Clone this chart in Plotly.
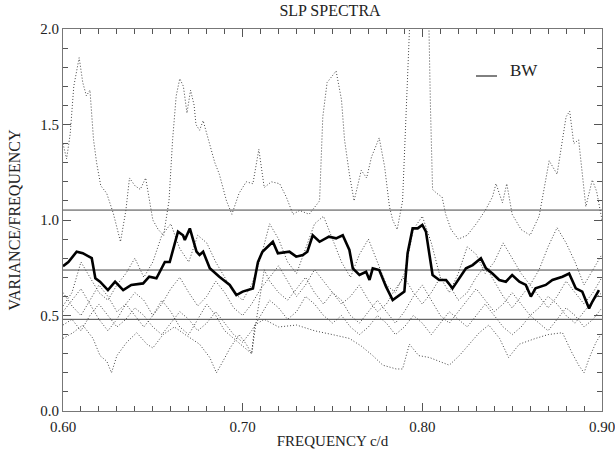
import plotly.graph_objects as go

# ---------------- data ----------------
bw_f = [0.600, 0.603, 0.6076, 0.611, 0.616, 0.618, 0.6206, 0.625, 0.629, 0.6335, 0.638, 0.6446,
        0.648, 0.652, 0.6567, 0.6594, 0.664, 0.6668, 0.6678, 0.6706, 0.6743, 0.676, 0.678, 0.6817,
        0.687, 0.6928, 0.6965, 0.700, 0.7057, 0.7085, 0.711, 0.7168, 0.7196, 0.726, 0.7298, 0.7335,
        0.736, 0.739, 0.7428, 0.748, 0.752, 0.7557, 0.7594, 0.7613, 0.765, 0.7687, 0.7706, 0.7724,
        0.776, 0.7798, 0.7835, 0.7872, 0.790, 0.7918, 0.7946, 0.7974, 0.800, 0.802, 0.8057, 0.8094,
        0.8132, 0.8168, 0.8206, 0.8243, 0.828, 0.8326, 0.8354, 0.839, 0.8428, 0.8465, 0.850, 0.854,
        0.8576, 0.8604, 0.863, 0.8687, 0.8724, 0.878, 0.8817, 0.8854, 0.889, 0.8928, 0.8946, 0.8983]
bw_v = [0.758, 0.78, 0.834, 0.826, 0.80, 0.695, 0.677, 0.633, 0.677, 0.633, 0.66, 0.668,
        0.703, 0.695, 0.78, 0.78, 0.939, 0.92, 0.895, 0.956, 0.834, 0.817, 0.834, 0.747,
        0.703, 0.66, 0.607, 0.625, 0.642, 0.78, 0.834, 0.886, 0.826, 0.834, 0.808, 0.817,
        0.834, 0.92, 0.886, 0.913, 0.904, 0.92, 0.843, 0.747, 0.712, 0.729, 0.686, 0.747,
        0.738, 0.651, 0.581, 0.607, 0.625, 0.826, 0.956, 0.956, 0.974, 0.939, 0.712, 0.686,
        0.686, 0.642, 0.695, 0.747, 0.764, 0.80, 0.747, 0.72, 0.686, 0.677, 0.712, 0.677,
        0.66, 0.599, 0.642, 0.66, 0.686, 0.703, 0.72, 0.642, 0.625, 0.537, 0.572, 0.633]

s1_f = [0.600, 0.602, 0.604, 0.606, 0.609, 0.611, 0.613, 0.615, 0.617, 0.6187, 0.621, 0.6243,
        0.628, 0.632, 0.635, 0.637, 0.640, 0.643, 0.646, 0.648, 0.650, 0.653, 0.656, 0.659,
        0.661, 0.663, 0.665, 0.667, 0.669, 0.671, 0.673, 0.674, 0.676, 0.678, 0.680, 0.6845,
        0.687, 0.691, 0.694, 0.698, 0.702, 0.7057, 0.709, 0.712, 0.716, 0.7206, 0.7243, 0.728,
        0.7317, 0.737, 0.7428, 0.7446, 0.747, 0.752, 0.755, 0.7567, 0.7594, 0.762, 0.766, 0.769,
        0.7717, 0.776, 0.779, 0.7817, 0.7835, 0.786, 0.789, 0.791, 0.7925, 0.795, 0.800, 0.8035,
        0.8045, 0.8057, 0.808, 0.811, 0.813, 0.816, 0.820, 0.825, 0.830, 0.835, 0.839, 0.841,
        0.8446, 0.847, 0.850, 0.855, 0.860, 0.865, 0.8706, 0.875, 0.878, 0.880, 0.882, 0.8843,
        0.887, 0.889, 0.891, 0.8946, 0.897, 0.900]
s1_v = [1.40, 1.32, 1.45, 1.70, 1.85, 1.72, 1.65, 1.68, 1.42, 1.30, 1.18, 1.14,
        1.035, 0.886, 1.05, 1.22, 1.18, 1.16, 1.22, 1.12, 1.00, 0.95, 0.92, 1.10,
        1.42, 1.65, 1.74, 1.70, 1.56, 1.68, 1.60, 1.50, 1.47, 1.52, 1.45, 1.30,
        1.24, 1.10, 1.03, 1.14, 1.20, 1.19, 1.37, 1.17, 1.20, 1.19, 1.12, 1.03,
        1.05, 1.03, 1.10, 1.54, 1.72, 1.78, 1.63, 1.42, 1.24, 1.10, 1.26, 1.22,
        1.33, 1.43, 1.28, 1.07, 1.00, 0.95, 1.10, 1.60, 2.10, 2.50, 2.50, 2.10,
        1.60, 1.16, 1.14, 1.12, 1.03, 0.95, 0.90, 0.92, 0.98, 1.05, 1.12, 1.19,
        1.09, 1.19, 1.03, 0.95, 0.92, 1.02, 1.31, 1.24, 1.42, 1.54, 1.57, 1.40,
        1.42, 1.24, 1.07, 1.21, 1.15, 1.00]

grid_f = [0.600, 0.605, 0.610, 0.615, 0.620, 0.625, 0.630, 0.635, 0.640, 0.645, 0.650, 0.655,
          0.660, 0.665, 0.670, 0.675, 0.680, 0.685, 0.690, 0.695, 0.700, 0.705, 0.710, 0.715,
          0.720, 0.725, 0.730, 0.735, 0.740, 0.745, 0.750, 0.755, 0.760, 0.765, 0.770, 0.775,
          0.780, 0.785, 0.790, 0.795, 0.800, 0.805, 0.810, 0.815, 0.820, 0.825, 0.830, 0.835,
          0.840, 0.845, 0.850, 0.855, 0.860, 0.865, 0.870, 0.875, 0.880, 0.885, 0.890, 0.895, 0.900]
s2_v = [0.55, 0.62, 0.78, 0.70, 0.62, 0.58, 0.66, 0.72, 0.80, 0.70, 0.78, 0.92,
        0.98, 0.85, 0.78, 0.92, 0.88, 0.78, 0.70, 0.62, 0.58, 0.66, 0.80, 0.98,
        0.90, 0.78, 0.72, 0.85, 0.98, 1.02, 0.90, 0.78, 0.70, 0.82, 0.90, 0.78,
        0.66, 0.62, 0.72, 0.95, 1.02, 0.88, 0.70, 0.62, 0.72, 0.86, 0.82, 0.72,
        0.78, 0.88, 0.80, 0.72, 0.66, 0.74, 0.86, 0.96, 0.88, 0.78, 0.66, 0.74, 0.82]
s3_v = [0.62, 0.55, 0.50, 0.58, 0.66, 0.60, 0.52, 0.56, 0.62, 0.58, 0.50, 0.56,
        0.64, 0.70, 0.62, 0.55, 0.60, 0.68, 0.62, 0.54, 0.50, 0.56, 0.64, 0.70,
        0.76, 0.68, 0.60, 0.66, 0.74, 0.68, 0.62, 0.56, 0.60, 0.66, 0.58, 0.52,
        0.56, 0.64, 0.70, 0.62, 0.56, 0.62, 0.70, 0.66, 0.58, 0.62, 0.70, 0.76,
        0.68, 0.60, 0.54, 0.60, 0.66, 0.60, 0.54, 0.60, 0.68, 0.62, 0.56, 0.62, 0.70]
s4_v = [0.45, 0.48, 0.42, 0.50, 0.56, 0.50, 0.44, 0.48, 0.54, 0.50, 0.44, 0.40,
        0.46, 0.52, 0.48, 0.42, 0.46, 0.52, 0.46, 0.40, 0.36, 0.42, 0.50, 0.58,
        0.54, 0.48, 0.52, 0.60, 0.56, 0.50, 0.46, 0.50, 0.44, 0.40, 0.44, 0.50,
        0.46, 0.40, 0.44, 0.50, 0.46, 0.40, 0.46, 0.52, 0.48, 0.44, 0.50, 0.56,
        0.50, 0.44, 0.40, 0.44, 0.50, 0.46, 0.42, 0.48, 0.54, 0.50, 0.44, 0.48, 0.54]

s5_f = [0.600, 0.6056, 0.611, 0.6167, 0.6206, 0.6244, 0.627, 0.630, 0.6355, 0.641, 0.6467, 0.650,
        0.6557, 0.662, 0.668, 0.676, 0.6817, 0.6854, 0.689, 0.693, 0.698, 0.702, 0.705, 0.7067,
        0.712, 0.720, 0.730, 0.740, 0.750, 0.7594, 0.766, 0.7724, 0.778, 0.7855, 0.789, 0.7928,
        0.798, 0.804, 0.8094, 0.815, 0.8206, 0.826, 0.8317, 0.837, 0.843, 0.848, 0.854, 0.863,
        0.870, 0.878, 0.883, 0.887, 0.890, 0.893, 0.8967, 0.900]
s5_v = [0.38, 0.41, 0.45, 0.38, 0.29, 0.26, 0.20, 0.29, 0.36, 0.41, 0.35, 0.33,
        0.40, 0.44, 0.40, 0.35, 0.28, 0.20, 0.26, 0.33, 0.40, 0.35, 0.30, 0.45,
        0.48, 0.44, 0.45, 0.42, 0.40, 0.38, 0.34, 0.29, 0.24, 0.22, 0.22, 0.35,
        0.29, 0.28, 0.26, 0.24, 0.29, 0.35, 0.41, 0.45, 0.38, 0.28, 0.35, 0.38,
        0.40, 0.41, 0.31, 0.24, 0.20, 0.28, 0.36, 0.41]

s6_f = [0.600, 0.605, 0.610, 0.615, 0.620, 0.625, 0.630, 0.635, 0.640, 0.645, 0.650, 0.655,
        0.660, 0.665, 0.670, 0.675, 0.680, 0.685, 0.690, 0.695, 0.700, 0.705, 0.708, 0.712,
        0.715, 0.720, 0.725, 0.730, 0.735, 0.740, 0.745, 0.750, 0.755, 0.760, 0.765, 0.770,
        0.775, 0.780, 0.785, 0.790, 0.795, 0.800, 0.805, 0.810, 0.815, 0.820, 0.825, 0.830,
        0.835, 0.840, 0.845, 0.850, 0.855, 0.860, 0.865, 0.870, 0.875, 0.880, 0.885, 0.890,
        0.895, 0.900]
s6_v = [0.52, 0.58, 0.64, 0.56, 0.48, 0.42, 0.48, 0.56, 0.50, 0.44, 0.50, 0.58,
        0.52, 0.44, 0.40, 0.48, 0.56, 0.50, 0.42, 0.38, 0.34, 0.30, 0.50, 0.74,
        0.68, 0.62, 0.58, 0.64, 0.70, 0.62, 0.56, 0.62, 0.58, 0.50, 0.46, 0.52,
        0.58, 0.52, 0.46, 0.52, 0.60, 0.66, 0.58, 0.50, 0.46, 0.52, 0.58, 0.64,
        0.58, 0.52, 0.56, 0.62, 0.56, 0.50, 0.54, 0.60, 0.56, 0.50, 0.46, 0.52,
        0.58, 0.62]

ref_levels = [1.052, 0.738, 0.48]
x_range = [0.60, 0.90]
x_ticks = [0.60, 0.70, 0.80, 0.90]
x_labels = ["0.60", "0.70", "0.80", "0.90"]
y_ticks = [0.0, 0.5, 1.0, 1.5, 2.0]
y_labels = ["0.0", "0.5", "1.0", "1.5", "2.0"]

FONT = "Liberation Serif"
TXT = "#222222"

FIG_W, FIG_H = 615, 449
ML, MR, MT, MB = 63, 13, 29, 38
PW, PH = FIG_W - ML - MR, FIG_H - MT - MB

fig = go.Figure()

dot_style = dict(color="#444444", width=1, dash="1px,2px")
dotted = [(s1_f, s1_v), (grid_f, s2_v), (grid_f, s3_v), (grid_f, s4_v), (s5_f, s5_v), (s6_f, s6_v)]
for fx, fy in dotted:
    fig.add_trace(go.Scatter(x=fx, y=fy, mode="lines", line=dot_style, showlegend=False,
                             hoverinfo="skip"))

for lv in ref_levels:
    fig.add_trace(go.Scatter(x=x_range, y=[lv, lv], mode="lines",
                             line=dict(color="#444444", width=1), showlegend=False))

fig.add_trace(go.Scatter(x=bw_f, y=bw_v, mode="lines",
                         line=dict(color="black", width=2.6), showlegend=False))

axis_common = dict(
    showgrid=False, zeroline=False, showline=True, linecolor="#777777", linewidth=1,
    mirror="ticks", ticks="inside", ticklen=8, tickcolor="#555555", automargin=False,
    ticklabeloverflow="allow",
)

fig.update_xaxes(range=x_range, tickvals=x_ticks, ticktext=x_labels,
                 minor=dict(dtick=0.01, ticks="inside", ticklen=5, tickcolor="#555555"),
                 ticklabelstandoff=2, tickfont=dict(family=FONT, size=15, color=TXT),
                 title=dict(text="FREQUENCY c/d", font=dict(family=FONT, size=15, color=TXT),
                            standoff=1),
                 **axis_common)
fig.update_yaxes(range=[0, 2.0], tickvals=y_ticks, ticktext=y_labels,
                 minor=dict(dtick=0.1, ticks="inside", ticklen=5, tickcolor="#555555"),
                 tickfont=dict(family=FONT, size=15, color=TXT),
                 title=dict(text="VARIANCE/FREQUENCY", font=dict(family=FONT, size=16, color=TXT),
                            standoff=15),
                 **axis_common)

fig.update_layout(
    width=FIG_W, height=FIG_H,
    margin=dict(l=ML, r=MR, t=MT, b=MB),
    plot_bgcolor="white", paper_bgcolor="white",
    title=dict(text="SLP SPECTRA", x=330 / FIG_W, xanchor="center",
               y=1 - 5 / FIG_H, yanchor="top", pad=dict(t=0, b=0),
               font=dict(family=FONT, size=16, color=TXT)),
    showlegend=False,
)

# legend-like "BW" key (page pixels converted to plot-area fractions)
def px_x(p):
    return (p - ML) / PW

def px_y(p):
    return (FIG_H - MB - p) / PH

fig.add_shape(type="line", xref="paper", yref="paper",
              x0=px_x(476), x1=px_x(497), y0=px_y(76), y1=px_y(76),
              line=dict(color="black", width=1))
fig.add_annotation(text="BW", xref="paper", yref="paper",
                   x=px_x(508), y=px_y(70), xanchor="left", yanchor="middle",
                   showarrow=False, font=dict(family=FONT, size=17, color=TXT))

# remove the browser's default 8px body margin so the figure fills the window exactly
fig.write_html("out.html", config={"displayModeBar": False},
               post_script="document.body.style.margin='0';document.body.style.overflow='hidden';")
